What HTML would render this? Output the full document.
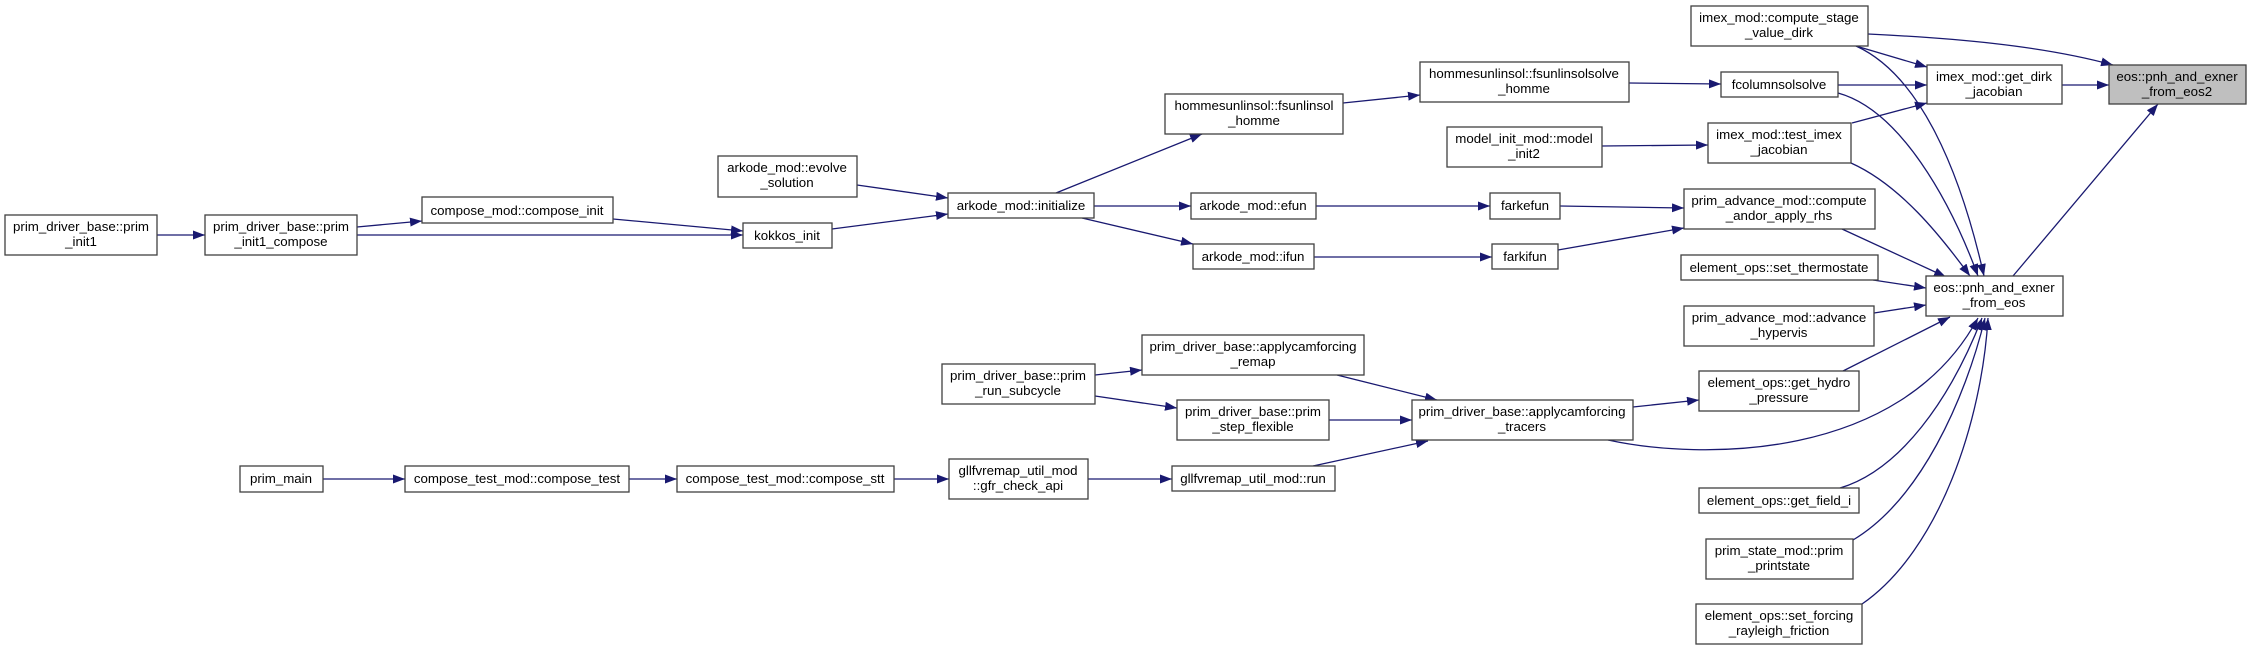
<!DOCTYPE html>
<html><head><meta charset="utf-8">
<style>
html,body{margin:0;padding:0;background:#fff;}
svg{display:block;}
text{font-family:"Liberation Sans",Arial,sans-serif;font-size:13.3px;fill:#000;}
.n{fill:#fff;stroke:#404040;stroke-width:1.3;}
.g{fill:#bfbfbf;stroke:#404040;stroke-width:1.3;}
.e{fill:none;stroke:#191970;stroke-width:1.3;marker-end:url(#a);}
</style></head><body>
<svg width="2251" height="651" viewBox="0 0 2251 651" xmlns="http://www.w3.org/2000/svg">
<defs><marker id="a" markerUnits="userSpaceOnUse" markerWidth="12" markerHeight="9" refX="12" refY="4.5" orient="auto"><path d="M0,0 L12,4.5 L0,9 z" fill="#191970"/></marker></defs>

<!-- edges -->
<path class="e" d="M157,235 L205,235"/>
<path class="e" d="M357,227 L422,221"/>
<path class="e" d="M357,235 L743,235"/>
<path class="e" d="M613,219 L743,231"/>
<path class="e" d="M832,229 L948,214"/>
<path class="e" d="M857,185 L948,198"/>
<path class="e" d="M1056,193 L1202,134"/>
<path class="e" d="M1094,206 L1191,206"/>
<path class="e" d="M1082,218 L1193,244"/>
<path class="e" d="M1343,103 L1420,95"/>
<path class="e" d="M1629,83 L1721,84"/>
<path class="e" d="M1602,146 L1708,145"/>
<path class="e" d="M1316,206 L1490,206"/>
<path class="e" d="M1314,257 L1492,257"/>
<path class="e" d="M1560,206 L1684,208"/>
<path class="e" d="M1558,250 L1684,228"/>
<path class="e" d="M1095,375 L1142,370"/>
<path class="e" d="M1095,396 L1177,408"/>
<path class="e" d="M1337,375 L1437,400"/>
<path class="e" d="M1329,420 L1412,420"/>
<path class="e" d="M1313,466 L1428,441"/>
<path class="e" d="M323,479 L405,479"/>
<path class="e" d="M629,479 L677,479"/>
<path class="e" d="M894,479 L949,479"/>
<path class="e" d="M1088,479 L1172,479"/>
<path class="e" d="M1633,407 L1699,400"/>
<path class="e" d="M1608,440 C1700,460 1900,462 1978,318"/>
<path class="e" d="M1868,34 C1950,38 2040,45 2113,65"/>
<path class="e" d="M1856,46 L1927,67"/>
<path class="e" d="M1856,46 C1920,75 1960,170 1984,276"/>
<path class="e" d="M1838,93 C1900,110 1950,200 1978,276"/>
<path class="e" d="M1838,85 L1927,85"/>
<path class="e" d="M1852,123 L1927,103"/>
<path class="e" d="M1851,163 C1900,185 1940,235 1970,276"/>
<path class="e" d="M1842,229 L1946,277"/>
<path class="e" d="M1873,280 L1926,288"/>
<path class="e" d="M1874,313 L1926,305"/>
<path class="e" d="M1843,371 L1950,317"/>
<path class="e" d="M1840,488 C1900,470 1950,400 1982,318"/>
<path class="e" d="M1853,540 C1920,500 1965,400 1985,318"/>
<path class="e" d="M1862,604 C1940,550 1982,420 1988,318"/>
<path class="e" d="M2062,85 L2109,85"/>
<path class="e" d="M2013,276 L2158,104"/>

<!-- nodes -->
<g text-anchor="middle">
<rect class="n" x="5" y="215" width="152" height="40"/><text x="81" y="231">prim_driver_base::prim</text><text x="81" y="246">_init1</text>
<rect class="n" x="205" y="215" width="152" height="40"/><text x="281" y="231">prim_driver_base::prim</text><text x="281" y="246">_init1_compose</text>
<rect class="n" x="422" y="197" width="191" height="26"/><text x="517" y="215">compose_mod::compose_init</text>
<rect class="n" x="743" y="223" width="89" height="25"/><text x="787" y="240">kokkos_init</text>
<rect class="n" x="718" y="156" width="139" height="41"/><text x="787" y="172">arkode_mod::evolve</text><text x="787" y="187">_solution</text>
<rect class="n" x="948" y="193" width="146" height="25"/><text x="1021" y="210">arkode_mod::initialize</text>
<rect class="n" x="1165" y="94" width="178" height="40"/><text x="1254" y="110">hommesunlinsol::fsunlinsol</text><text x="1254" y="125">_homme</text>
<rect class="n" x="1191" y="193" width="125" height="26"/><text x="1253" y="210">arkode_mod::efun</text>
<rect class="n" x="1193" y="244" width="121" height="25"/><text x="1253" y="261">arkode_mod::ifun</text>
<rect class="n" x="1420" y="62" width="209" height="40"/><text x="1524" y="78">hommesunlinsol::fsunlinsolsolve</text><text x="1524" y="93">_homme</text>
<rect class="n" x="1447" y="127" width="155" height="40"/><text x="1524" y="143">model_init_mod::model</text><text x="1524" y="158">_init2</text>
<rect class="n" x="1490" y="193" width="70" height="26"/><text x="1525" y="210">farkefun</text>
<rect class="n" x="1492" y="244" width="66" height="25"/><text x="1525" y="261">farkifun</text>
<rect class="n" x="1691" y="6" width="177" height="40"/><text x="1779" y="22">imex_mod::compute_stage</text><text x="1779" y="37">_value_dirk</text>
<rect class="n" x="1721" y="72" width="117" height="25"/><text x="1779" y="89">fcolumnsolsolve</text>
<rect class="n" x="1708" y="123" width="143" height="40"/><text x="1779" y="139">imex_mod::test_imex</text><text x="1779" y="154">_jacobian</text>
<rect class="n" x="1684" y="189" width="191" height="40"/><text x="1779" y="205">prim_advance_mod::compute</text><text x="1779" y="220">_andor_apply_rhs</text>
<rect class="n" x="1681" y="255" width="197" height="25"/><text x="1779" y="272">element_ops::set_thermostate</text>
<rect class="n" x="1684" y="306" width="190" height="40"/><text x="1779" y="322">prim_advance_mod::advance</text><text x="1779" y="337">_hypervis</text>
<rect class="n" x="1699" y="371" width="160" height="40"/><text x="1779" y="387">element_ops::get_hydro</text><text x="1779" y="402">_pressure</text>
<rect class="n" x="1699" y="488" width="160" height="25"/><text x="1779" y="505">element_ops::get_field_i</text>
<rect class="n" x="1706" y="539" width="147" height="40"/><text x="1779" y="555">prim_state_mod::prim</text><text x="1779" y="570">_printstate</text>
<rect class="n" x="1696" y="604" width="166" height="40"/><text x="1779" y="620">element_ops::set_forcing</text><text x="1779" y="635">_rayleigh_friction</text>
<rect class="n" x="1927" y="65" width="135" height="39"/><text x="1994" y="81">imex_mod::get_dirk</text><text x="1994" y="96">_jacobian</text>
<rect class="n" x="1926" y="276" width="137" height="40"/><text x="1994" y="292">eos::pnh_and_exner</text><text x="1994" y="307">_from_eos</text>
<rect class="g" x="2109" y="65" width="137" height="39"/><text x="2177" y="81">eos::pnh_and_exner</text><text x="2177" y="96">_from_eos2</text>
<rect class="n" x="942" y="364" width="153" height="40"/><text x="1018" y="380">prim_driver_base::prim</text><text x="1018" y="395">_run_subcycle</text>
<rect class="n" x="1142" y="335" width="222" height="40"/><text x="1253" y="351">prim_driver_base::applycamforcing</text><text x="1253" y="366">_remap</text>
<rect class="n" x="1177" y="400" width="152" height="40"/><text x="1253" y="416">prim_driver_base::prim</text><text x="1253" y="431">_step_flexible</text>
<rect class="n" x="1412" y="400" width="221" height="40"/><text x="1522" y="416">prim_driver_base::applycamforcing</text><text x="1522" y="431">_tracers</text>
<rect class="n" x="240" y="466" width="83" height="26"/><text x="281" y="483">prim_main</text>
<rect class="n" x="405" y="466" width="224" height="26"/><text x="517" y="483">compose_test_mod::compose_test</text>
<rect class="n" x="677" y="466" width="217" height="26"/><text x="785" y="483">compose_test_mod::compose_stt</text>
<rect class="n" x="949" y="459" width="139" height="40"/><text x="1018" y="475">gllfvremap_util_mod</text><text x="1018" y="490">::gfr_check_api</text>
<rect class="n" x="1172" y="466" width="163" height="25"/><text x="1253" y="483">gllfvremap_util_mod::run</text>
</g>
</svg>
</body></html>
